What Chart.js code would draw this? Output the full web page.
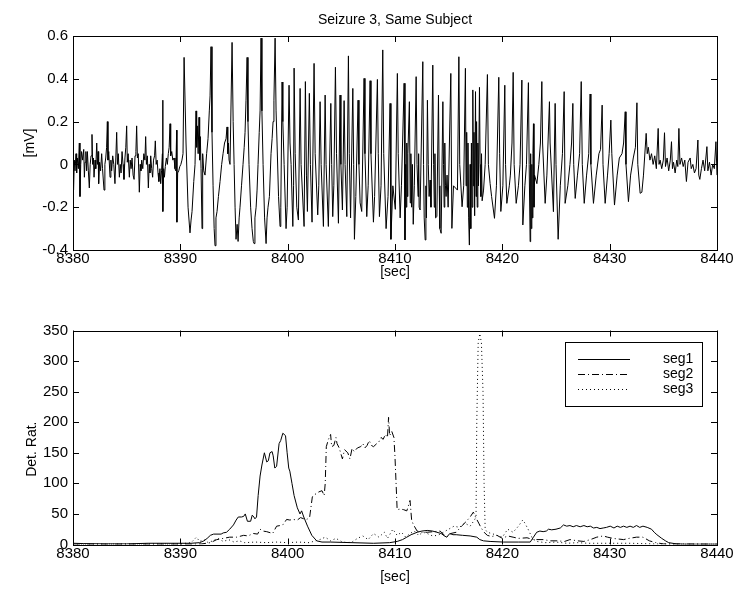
<!DOCTYPE html>
<html>
<head>
<meta charset="utf-8">
<script src="https://cdn.jsdelivr.net/npm/chart.js@4.4.0/dist/chart.umd.min.js"></script>
<style>
  html, body { margin: 0; padding: 0; background: #fff; }
  #wrap { position: relative; width: 755px; height: 595px; }
  canvas { position: absolute; left: 0; }
  #eegChart { top: 0; }
  #ratioChart { top: 290px; }
</style>
</head>
<body>
<div id="wrap">
  <canvas id="eegChart" width="755" height="290"></canvas>
  <canvas id="ratioChart" width="755" height="305"></canvas>
</div>
<script>
// EEG CHARTS

// tick values / labels
const timeTicks = [8380, 8390, 8400, 8410, 8420, 8430, 8440];
const mvTicks = [-0.4, -0.2, 0, 0.2, 0.4, 0.6];
const mvTickLabels = ["-0.4", "-0.2", "0", "0.2", "0.4", "0.6"];
const ratioTicks = [0, 50, 100, 150, 200, 250, 300, 350];

// top panel: [sec, mV]
const eegPreIctal = [
  [8380.00, -0.02], [8380.05, -0.12], [8380.12, 0.02], [8380.19, -0.03], [8380.28, 0.05],
  [8380.34, -0.04], [8380.40, 0.03], [8380.50, -0.02], [8380.59, 0.10], [8380.65, -0.15],
  [8380.72, 0.00], [8380.80, 0.06], [8380.90, 0.02], [8381.00, 0.07], [8381.06, -0.06],
  [8381.12, 0.01], [8381.20, 0.06], [8381.27, -0.03], [8381.34, 0.06], [8381.43, -0.03],
  [8381.52, -0.11], [8381.60, 0.00], [8381.68, 0.04], [8381.77, 0.14], [8381.83, 0.00],
  [8381.90, 0.03], [8381.96, -0.06], [8382.05, 0.02], [8382.12, -0.02], [8382.21, 0.10],
  [8382.28, 0.00], [8382.34, 0.06], [8382.39, -0.09], [8382.48, 0.01], [8382.57, -0.03],
  [8382.67, 0.05], [8382.75, -0.02], [8382.89, -0.12], [8382.97, 0.00], [8383.05, 0.03],
  [8383.13, 0.08], [8383.20, 0.20], [8383.26, 0.02], [8383.33, 0.06], [8383.45, -0.06],
  [8383.53, 0.02], [8383.60, -0.03], [8383.70, 0.04], [8383.80, 0.00], [8383.91, -0.09],
  [8383.99, 0.03], [8384.07, 0.15], [8384.14, 0.00], [8384.22, 0.05], [8384.32, -0.06],
  [8384.40, 0.00], [8384.48, -0.04], [8384.57, 0.06], [8384.66, 0.00], [8384.75, -0.07],
  [8384.84, 0.03], [8384.92, 0.08], [8385.00, 0.18], [8385.06, 0.01], [8385.14, 0.05],
  [8385.25, -0.06], [8385.33, 0.02], [8385.41, -0.02], [8385.50, 0.03], [8385.60, -0.05],
  [8385.69, -0.07], [8385.78, 0.04], [8385.86, 0.06], [8385.93, 0.18], [8386.00, 0.03],
  [8386.08, 0.05], [8386.18, -0.13], [8386.26, 0.00], [8386.33, -0.03], [8386.40, 0.02],
  [8386.50, -0.02], [8386.60, 0.05], [8386.70, 0.02], [8386.77, 0.13], [8386.84, 0.00],
  [8386.93, 0.04], [8387.02, -0.11], [8387.10, 0.00], [8387.17, -0.04], [8387.24, 0.04],
  [8387.33, -0.02], [8387.42, -0.06], [8387.50, 0.02], [8387.60, 0.04], [8387.67, 0.11],
  [8387.75, 0.00], [8387.84, 0.02], [8387.92, -0.04], [8388.00, -0.08], [8388.10, -0.02],
  [8388.17, -0.09], [8388.25, -0.03], [8388.33, 0.05], [8388.36, 0.30], [8388.38, -0.22],
  [8388.45, -0.02], [8388.52, -0.06], [8388.60, -0.01], [8388.70, 0.03], [8388.79, 0.00],
  [8388.88, 0.05], [8388.96, 0.08], [8389.04, 0.19], [8389.10, 0.04], [8389.20, 0.06],
  [8389.30, 0.02], [8389.41, 0.03], [8389.50, -0.02], [8389.58, -0.03], [8389.66, 0.16],
  [8389.68, -0.27], [8389.75, -0.04], [8389.85, -0.03], [8389.95, -0.01], [8390.05, 0.00],
  [8390.15, 0.02], [8390.25, 0.05],
];

const eegOnset = [
  [8390.35, 0.50], [8390.53, 0.10], [8390.72, -0.20], [8390.90, -0.32], [8391.00, -0.26],
  [8391.09, -0.22], [8391.25, -0.08], [8391.37, 0.00], [8391.46, 0.25], [8391.52, 0.08],
  [8391.58, 0.18], [8391.66, 0.05], [8391.74, 0.22], [8391.80, 0.02], [8391.86, 0.13],
  [8391.93, -0.02], [8392.02, -0.30], [8392.08, 0.05], [8392.18, -0.03], [8392.30, -0.05],
  [8392.45, 0.05], [8392.58, 0.12], [8392.70, 0.25], [8392.77, 0.32], [8392.86, 0.55],
  [8392.95, 0.15], [8393.05, -0.10], [8393.15, -0.30], [8393.23, -0.38], [8393.32, -0.25],
  [8393.42, -0.22], [8393.55, -0.15], [8393.70, -0.08], [8393.85, 0.00], [8393.98, 0.05],
  [8394.12, 0.10], [8394.26, 0.12], [8394.35, 0.175], [8394.42, 0.05], [8394.48, 0.10],
  [8394.54, 0.02], [8394.63, 0.00], [8394.82, 0.57], [8394.92, 0.20], [8395.01, 0.00],
  [8395.10, -0.20], [8395.19, -0.35], [8395.29, -0.28], [8395.38, -0.36], [8395.48, -0.25],
  [8395.56, -0.20], [8395.70, -0.10], [8395.84, 0.00], [8395.95, 0.08], [8396.03, 0.15],
  [8396.12, 0.30], [8396.22, 0.50], [8396.30, 0.20], [8396.40, 0.00], [8396.55, -0.20],
  [8396.68, -0.30], [8396.80, -0.36], [8396.87, -0.37], [8396.95, -0.25], [8397.06, -0.20],
  [8397.15, -0.12], [8397.24, 0.00], [8397.35, 0.15], [8397.43, 0.25], [8397.52, 0.59],
  [8397.60, 0.25], [8397.71, 0.00], [8397.85, -0.25], [8397.99, -0.37], [8398.08, -0.25],
  [8398.17, -0.20], [8398.30, -0.15], [8398.45, 0.05], [8398.55, 0.12], [8398.64, 0.20],
  [8398.72, 0.30], [8398.83, 0.59], [8398.92, 0.25], [8399.01, 0.10], [8399.15, -0.15],
  [8399.29, -0.29], [8399.36, -0.20], [8399.48, 0.385], [8399.55, 0.20], [8399.67, 0.00],
  [8399.85, -0.30], [8399.95, -0.20], [8400.13, 0.37], [8400.22, 0.10], [8400.32, 0.00],
  [8400.48, -0.29], [8400.55, -0.10],
];

const eegIctal = [
  [8400.60, 0.45], [8400.70, 0.05], [8400.85, -0.20], [8401.00, -0.26], [8401.16, 0.355],
  [8401.25, 0.00], [8401.53, -0.29], [8401.65, 0.387], [8401.75, -0.05], [8401.84, -0.22],
  [8402.02, 0.332], [8402.12, 0.00], [8402.27, -0.27], [8402.46, 0.472], [8402.56, 0.05],
  [8402.80, -0.236], [8402.90, -0.10], [8403.02, 0.293], [8403.12, 0.00], [8403.33, -0.29],
  [8403.49, 0.324], [8403.58, 0.00], [8403.79, -0.29], [8404.02, 0.285], [8404.10, 0.00],
  [8404.20, -0.244], [8404.30, -0.10], [8404.45, 0.454], [8404.55, 0.05], [8404.73, -0.275],
  [8404.88, 0.324], [8404.96, 0.00], [8405.10, -0.213], [8405.26, 0.298], [8405.35, 0.00],
  [8405.51, -0.244], [8405.66, 0.507], [8405.74, 0.05], [8405.86, -0.25], [8406.07, 0.355],
  [8406.15, 0.00], [8406.22, -0.35], [8406.35, -0.15], [8406.56, 0.30], [8406.64, 0.00],
  [8406.75, -0.18], [8406.90, -0.22], [8407.12, 0.402], [8407.20, 0.05], [8407.37, -0.244],
  [8407.50, -0.10], [8407.68, 0.391], [8407.76, 0.05], [8407.99, -0.27], [8408.10, -0.15],
  [8408.36, 0.397], [8408.44, 0.05], [8408.55, -0.244], [8408.70, -0.10], [8408.86, 0.535],
  [8408.95, 0.05], [8409.17, -0.30], [8409.35, -0.15], [8409.54, 0.285], [8409.62, -0.35],
  [8409.80, -0.10], [8410.03, -0.21], [8410.22, 0.425], [8410.30, 0.05], [8410.48, -0.25],
  [8410.60, -0.10], [8410.85, 0.379], [8410.93, -0.353], [8411.00, 0.00], [8411.05, -0.20],
  [8411.10, 0.10], [8411.15, -0.15], [8411.20, 0.05], [8411.34, 0.293], [8411.42, -0.18],
  [8411.48, 0.05], [8411.55, -0.20], [8411.62, 0.00], [8411.70, -0.28], [8411.80, -0.10],
  [8411.97, 0.41], [8412.05, 0.00], [8412.15, -0.15], [8412.20, 0.05], [8412.25, -0.20],
  [8412.34, -0.213], [8412.59, 0.48], [8412.66, 0.00], [8412.72, -0.25], [8412.81, -0.353],
  [8412.88, -0.10], [8412.93, -0.25], [8413.02, 0.30], [8413.10, 0.00], [8413.18, -0.15],
  [8413.27, -0.073], [8413.35, -0.20], [8413.52, 0.464], [8413.60, 0.00], [8413.66, -0.20],
  [8413.72, 0.05], [8413.78, -0.25], [8413.90, -0.244], [8414.05, 0.324], [8414.12, -0.10],
  [8414.18, -0.30], [8414.30, -0.322], [8414.46, 0.293], [8414.52, 0.00], [8414.58, -0.20],
  [8414.64, 0.10], [8414.70, -0.10], [8414.76, -0.15], [8414.85, -0.05], [8414.95, -0.20],
  [8415.20, 0.425], [8415.30, -0.299], [8415.45, -0.10], [8415.82, -0.12], [8415.95, 0.503],
  [8416.03, 0.00], [8416.25, -0.198], [8416.40, -0.10], [8416.56, 0.449], [8416.62, -0.10],
  [8416.68, 0.15], [8416.74, -0.20], [8416.80, 0.10], [8416.86, -0.25], [8416.93, -0.377],
  [8417.00, 0.00], [8417.06, -0.30], [8417.12, 0.10], [8417.18, -0.20], [8417.25, 0.348],
  [8417.30, -0.10], [8417.36, 0.15], [8417.42, -0.24], [8417.50, 0.34], [8417.55, -0.15],
  [8417.60, 0.20], [8417.66, -0.20], [8417.72, 0.10], [8417.78, -0.10], [8417.87, 0.36],
  [8417.93, 0.00], [8418.00, -0.15], [8418.06, 0.05], [8418.12, -0.17], [8418.25, -0.12],
  [8418.40, 0.00], [8418.61, 0.42], [8418.70, 0.00], [8418.86, -0.089], [8419.00, -0.15],
  [8419.27, -0.252], [8419.45, -0.10], [8419.67, 0.407], [8419.75, 0.05], [8419.86, -0.22],
  [8420.05, -0.10], [8420.23, 0.37], [8420.30, 0.00], [8420.42, -0.182], [8420.65, -0.10],
  [8420.75, -0.05], [8420.90, 0.10], [8421.01, 0.43], [8421.10, 0.00], [8421.29, -0.182],
  [8421.50, -0.10], [8421.65, 0.00], [8421.82, 0.394], [8421.91, -0.283], [8422.10, -0.10],
  [8422.25, 0.00], [8422.43, 0.382], [8422.50, 0.00], [8422.59, -0.361], [8422.62, -0.20],
  [8422.66, 0.05], [8422.70, -0.30], [8422.75, 0.00], [8422.80, -0.25], [8422.85, 0.05],
  [8422.90, 0.19], [8422.95, -0.20], [8423.00, -0.05],
];

const eegOffset = [
  [8423.22, -0.09], [8423.40, 0.00], [8423.55, 0.10], [8423.68, 0.387], [8423.75, 0.10],
  [8423.99, -0.182], [8424.15, -0.05], [8424.39, 0.293], [8424.45, 0.10], [8424.76, -0.221],
  [8424.92, 0.285], [8425.00, 0.00], [8425.20, -0.35], [8425.40, -0.10], [8425.60, 0.05],
  [8425.76, 0.34], [8425.85, -0.182], [8426.10, -0.10], [8426.30, 0.00], [8426.45, 0.10],
  [8426.57, 0.285], [8426.65, 0.00], [8426.79, -0.159], [8427.00, -0.05], [8427.20, 0.05],
  [8427.35, 0.387], [8427.45, 0.00], [8427.63, -0.182], [8427.85, -0.05], [8428.05, 0.05],
  [8428.18, 0.329], [8428.25, 0.00], [8428.49, -0.182], [8428.75, -0.05], [8429.00, 0.05],
  [8429.15, 0.07], [8429.30, 0.277], [8429.38, 0.00], [8429.58, -0.182], [8429.80, -0.05],
  [8429.95, 0.05], [8430.11, 0.207], [8430.20, 0.05], [8430.45, -0.19], [8430.70, -0.05],
  [8430.90, 0.03], [8431.15, 0.05], [8431.30, 0.10], [8431.45, 0.246], [8431.52, 0.00],
  [8431.75, -0.174], [8431.95, -0.05], [8432.20, 0.03], [8432.40, 0.08], [8432.54, 0.288],
  [8432.62, 0.00], [8432.84, -0.135], [8433.00, -0.13], [8433.15, -0.05], [8433.40, 0.145],
  [8433.50, 0.05], [8433.60, 0.08], [8433.75, 0.02], [8433.90, 0.05], [8434.05, 0.00],
  [8434.20, 0.04], [8434.35, -0.02], [8434.52, 0.168], [8434.60, 0.00], [8434.70, 0.02],
  [8434.85, -0.02], [8435.00, 0.02], [8435.11, 0.148], [8435.20, -0.01], [8435.35, 0.03],
  [8435.50, -0.03], [8435.65, 0.02], [8435.76, 0.106], [8435.85, -0.02], [8435.95, 0.01],
  [8436.10, -0.04], [8436.25, 0.02], [8436.35, -0.01], [8436.45, 0.168], [8436.55, 0.00],
  [8436.70, 0.03], [8436.85, -0.01], [8437.00, 0.02], [8437.15, -0.08], [8437.30, 0.01],
  [8437.50, 0.03], [8437.60, -0.02], [8437.75, 0.00], [8437.90, -0.04], [8438.05, -0.02],
  [8438.22, 0.114], [8438.30, -0.05], [8438.40, -0.07], [8438.55, -0.02], [8438.70, 0.02],
  [8438.85, -0.03], [8439.06, 0.083], [8439.15, -0.03], [8439.30, 0.01], [8439.45, -0.05],
  [8439.60, 0.00], [8439.75, -0.02], [8439.90, 0.106], [8440.00, -0.05],
];

// bottom panel: [sec, detection ratio]
const seg1Ratio = [
  [8380, 2], [8381, 1.5], [8383, 1], [8385, 1], [8387, 2], [8389, 2], [8391, 2], [8391.8, 3],
  [8392.2, 6], [8392.5, 10], [8392.8, 15], [8393.1, 17], [8393.8, 17], [8394.0, 19], [8394.3, 20],
  [8394.6, 25], [8394.95, 32], [8395.2, 40], [8395.4, 45], [8395.7, 45], [8395.9, 46], [8396.05, 50],
  [8396.25, 38], [8396.55, 38], [8396.7, 48], [8396.85, 45], [8396.95, 42], [8397.1, 45],
  [8397.25, 80], [8397.43, 112], [8397.6, 130], [8397.83, 150], [8398.05, 135], [8398.2, 137],
  [8398.35, 150], [8398.55, 152], [8398.65, 145], [8398.8, 125], [8398.97, 128], [8399.2, 165],
  [8399.35, 170], [8399.55, 182], [8399.8, 178], [8399.95, 150], [8400.1, 125], [8400.2, 120],
  [8400.4, 100], [8400.6, 80], [8400.9, 60], [8401.15, 50], [8401.3, 55], [8401.5, 45],
  [8401.85, 30], [8402.25, 15], [8402.7, 6], [8403.2, 4], [8404, 4], [8406, 3], [8408, 2],
  [8409.5, 3], [8410.2, 5], [8410.7, 8], [8411.1, 12], [8411.5, 16], [8412.06, 20], [8412.5, 22],
  [8413, 23], [8413.5, 22], [8413.9, 20], [8414.3, 18], [8414.6, 14], [8414.83, 12], [8415.1, 18],
  [8415.4, 16], [8415.7, 16], [8416.3, 15], [8417.0, 14], [8417.62, 12], [8417.9, 8], [8418.24, 6],
  [8418.86, 5], [8420.1, 4], [8421.5, 4], [8422.6, 4], [8422.9, 12], [8423.2, 20], [8423.5, 22],
  [8423.8, 21], [8424.1, 22], [8424.3, 25], [8424.6, 24], [8425.0, 25], [8425.4, 27], [8425.7, 32],
  [8426.0, 30], [8426.3, 31], [8426.6, 29], [8426.9, 31], [8427.25, 29], [8427.6, 31], [8427.9, 29],
  [8428.2, 30], [8428.5, 27], [8428.8, 28], [8429.1, 26], [8429.4, 27], [8429.7, 28], [8430.05, 30],
  [8430.4, 27], [8430.7, 30], [8431.0, 28], [8431.3, 30], [8431.6, 28], [8431.9, 30], [8432.2, 28],
  [8432.5, 31], [8432.8, 28], [8433.1, 30], [8433.5, 28], [8433.9, 25], [8434.15, 20], [8434.4, 16],
  [8434.85, 10], [8435.2, 6], [8435.5, 3], [8436.2, 1], [8437, 0.5], [8440, 0.5],
];

const seg2Ratio = [
  [8380, 0.5], [8391, 0.5], [8392, 1], [8392.8, 3], [8393.4, 8], [8394, 10], [8394.6, 12],
  [8395.25, 12], [8395.9, 15], [8396.3, 14], [8396.8, 18], [8397.2, 17], [8397.43, 25],
  [8397.7, 22], [8398.05, 21], [8398.6, 18], [8398.97, 30], [8399.3, 31], [8399.6, 33],
  [8399.9, 41], [8400.2, 40], [8400.5, 41], [8400.9, 40], [8401.2, 44], [8401.5, 42], [8401.8, 41],
  [8402.05, 45], [8402.3, 78], [8402.5, 82], [8402.7, 83], [8402.9, 86], [8403.2, 88], [8403.4, 80],
  [8403.5, 100], [8403.6, 160], [8403.8, 172], [8404.0, 180], [8404.1, 160], [8404.3, 162],
  [8404.5, 175], [8404.6, 165], [8404.8, 158], [8405.1, 140], [8405.3, 155], [8405.6, 150],
  [8405.8, 140], [8406.0, 157], [8406.2, 152], [8406.5, 158], [8406.8, 160], [8407.0, 165],
  [8407.2, 158], [8407.4, 162], [8407.6, 170], [8407.8, 162], [8408.0, 160], [8408.3, 165],
  [8408.5, 168], [8408.7, 175], [8408.9, 172], [8409.1, 180], [8409.3, 175], [8409.4, 208],
  [8409.5, 178], [8409.7, 185], [8409.9, 175], [8410.0, 143], [8410.2, 57], [8410.5, 58],
  [8410.8, 57], [8411.1, 55], [8411.4, 72], [8411.55, 40], [8411.7, 33], [8412.06, 22],
  [8412.5, 20], [8413, 20], [8413.6, 21], [8414.2, 22], [8414.8, 12], [8415.2, 18], [8415.7, 20],
  [8416.2, 30], [8416.6, 37], [8417.0, 45], [8417.3, 53], [8417.5, 45], [8417.8, 35], [8418.0, 28],
  [8418.3, 20], [8418.6, 15], [8419.0, 13], [8419.5, 15], [8420.0, 10], [8420.5, 14], [8421, 12],
  [8421.5, 10], [8422.3, 11], [8422.9, 8], [8423.8, 8], [8424.5, 6], [8425.1, 6], [8425.8, 5],
  [8426.3, 8], [8427, 6], [8427.6, 5], [8428.2, 8], [8428.8, 12], [8429.4, 14], [8429.8, 12],
  [8430.3, 10], [8430.8, 9], [8431.3, 8], [8431.8, 10], [8432.5, 12], [8433.1, 12], [8433.7, 6],
  [8434.3, 3], [8435, 1], [8440, 0.5],
];

const seg3Ratio = [
  [8380, 0.5], [8390, 1], [8391, 3], [8391.5, 12], [8391.8, 5], [8392.2, 8], [8392.6, 3],
  [8393, 6], [8393.5, 10], [8394, 5], [8394.5, 8], [8395, 4], [8395.5, 6], [8396, 3], [8397, 4],
  [8398, 3], [8399, 4], [8400, 3], [8401, 4], [8402, 3], [8403, 8], [8403.5, 12], [8404, 6],
  [8404.5, 10], [8405, 5], [8405.5, 3], [8406, 4], [8406.5, 10], [8407, 14], [8407.5, 8],
  [8408, 18], [8408.5, 12], [8409, 20], [8409.3, 10], [8409.8, 25], [8410.2, 15], [8410.6, 20],
  [8411, 12], [8411.4, 18], [8411.8, 22], [8412.2, 15], [8412.6, 20], [8413, 18], [8413.5, 14],
  [8414, 15], [8414.5, 20], [8415, 25], [8415.5, 30], [8416, 28], [8416.5, 35], [8417, 30],
  [8417.4, 40], [8417.55, 45], [8417.62, 200], [8417.75, 330], [8417.9, 345], [8418.05, 330],
  [8418.2, 250], [8418.3, 100], [8418.4, 25], [8418.6, 20], [8419, 18], [8419.5, 15], [8420, 12],
  [8420.5, 25], [8421, 20], [8421.5, 30], [8421.9, 40], [8422.1, 35], [8422.4, 25], [8422.8, 10],
  [8423.2, 5], [8424, 3], [8425, 4], [8426, 2], [8427, 3], [8428, 2], [8430, 2], [8432, 2],
  [8434, 1], [8436, 0.5], [8440, 0.5],
];

const toXY = (rows) => rows.map(([x, y]) => ({ x, y }));
const eegTrace = [].concat(eegPreIctal, eegOnset, eegIctal, eegOffset);

const FAMILY = "'Liberation Sans', Arial, sans-serif";
const FONT = { family: FAMILY, size: 14, weight: "normal" };
const TICK_FONT = { family: FAMILY, size: 15, weight: "normal" };
Chart.defaults.color = "#000";

// matlab style box + inward tick marks
const boxTicks = {
  id: "boxTicks",
  afterDatasetsDraw(chart) {
    const { ctx, chartArea: a, scales } = chart;
    const x = scales.x, y = scales.y;
    ctx.save();
    ctx.strokeStyle = "#000";
    ctx.lineWidth = 1;
    ctx.beginPath();
    x.ticks.forEach((t) => {
      const px = Math.round(x.getPixelForValue(t.value)) + 0.5;
      ctx.moveTo(px, a.bottom); ctx.lineTo(px, a.bottom - 6);
      ctx.moveTo(px, a.top); ctx.lineTo(px, a.top + 6);
    });
    y.ticks.forEach((t) => {
      const py = Math.round(y.getPixelForValue(t.value)) + 0.5;
      ctx.moveTo(a.left, py); ctx.lineTo(a.left + 6, py);
      ctx.moveTo(a.right, py); ctx.lineTo(a.right - 6, py);
    });
    ctx.stroke();
    ctx.strokeRect(Math.round(a.left) + 0.5, Math.round(a.top) + 0.5,
      Math.round(a.width), Math.round(a.height));
    ctx.restore();
  },
};

// legend box like the original figure
const boxLegend = {
  id: "boxLegend",
  afterDraw(chart) {
    const { ctx, chartArea: a } = chart;
    const left = Math.round(a.right - 152), top = Math.round(a.top + 11);
    ctx.save();
    ctx.fillStyle = "#fff";
    ctx.fillRect(left, top, 137, 64);
    ctx.strokeStyle = "#000";
    ctx.lineWidth = 1;
    ctx.strokeRect(left + 0.5, top + 0.5, 137, 64);
    ctx.font = "14px " + FAMILY;
    ctx.fillStyle = "#000";
    ctx.textBaseline = "middle";
    chart.data.datasets.forEach((ds, i) => {
      const yy = top + 17 + i * 15 + 0.5;
      ctx.setLineDash(ds.borderDash || []);
      ctx.beginPath();
      ctx.moveTo(left + 13, yy);
      ctx.lineTo(left + 65, yy);
      ctx.stroke();
      ctx.setLineDash([]);
      ctx.fillText(ds.label, left + 98, yy);
    });
    ctx.restore();
  },
};

function xAxis() {
  return {
    type: "linear", min: 8380, max: 8440,
    afterBuildTicks: (s) => { s.ticks = timeTicks.map((v) => ({ value: v })); },
    ticks: { font: TICK_FONT, padding: 0, autoSkip: false, maxRotation: 0, callback: (v) => String(v) },
    grid: { display: false, drawTicks: false },
    border: { display: false },
    title: { display: true, text: "[sec]", font: FONT, padding: { top: 0, bottom: 9 } },
  };
}

new Chart(document.getElementById("eegChart"), {
  type: "line",
  data: {
    datasets: [{
      label: "EEG",
      data: toXY(eegTrace),
      borderColor: "#000",
      borderWidth: 1,
      pointRadius: 0,
      tension: 0,
    }],
  },
  options: {
    responsive: false,
    animation: false,
    layout: { padding: { top: 0, right: 38, left: 0, bottom: 0 } },
    scales: {
      x: Object.assign(xAxis(), { afterFit: (s) => { s.height = 40; } }),
      y: {
        min: -0.4, max: 0.6,
        afterBuildTicks: (s) => { s.ticks = mvTicks.map((v) => ({ value: v })); },
        ticks: { font: TICK_FONT, padding: 5, callback: (v, i) => mvTickLabels[i] },
        grid: { display: false, drawTicks: false },
        border: { display: false },
        title: { display: true, text: "[mV]", font: FONT, padding: { top: 22 } },
        afterFit: (s) => { s.width = 73; },
      },
    },
    plugins: {
      legend: { display: false },
      tooltip: { enabled: false },
      title: {
        display: true,
        text: "Seizure 3, Same Subject",
        font: FONT,
        fullSize: false,
        padding: { top: 12, bottom: 7.2 },
      },
    },
  },
  plugins: [boxTicks],
});

new Chart(document.getElementById("ratioChart"), {
  type: "line",
  data: {
    datasets: [
      { label: "seg1", data: toXY(seg1Ratio), borderColor: "#000", borderWidth: 1, pointRadius: 0, borderDash: [] },
      { label: "seg2", data: toXY(seg2Ratio), borderColor: "#000", borderWidth: 1, pointRadius: 0, borderDash: [7, 3, 1, 3] },
      { label: "seg3", data: toXY(seg3Ratio), borderColor: "#000", borderWidth: 1, pointRadius: 0, borderDash: [1, 3] },
    ],
  },
  options: {
    responsive: false,
    animation: false,
    layout: { padding: { top: 40.5, right: 38, left: 0, bottom: 0 } },
    scales: {
      x: Object.assign(xAxis(), { afterFit: (s) => { s.height = 50.5; } }),
      y: {
        min: 0, max: 350,
        afterBuildTicks: (s) => { s.ticks = ratioTicks.map((v) => ({ value: v })); },
        ticks: { font: TICK_FONT, padding: 5, callback: (v) => String(v) },
        grid: { display: false, drawTicks: false },
        border: { display: false },
        // trailing spaces nudge the rotated label down like the original
        title: { display: true, text: "Det. Rat.      ", font: FONT, padding: { top: 24 } },
        afterFit: (s) => { s.width = 73; },
      },
    },
    plugins: {
      legend: { display: false },
      tooltip: { enabled: false },
    },
  },
  plugins: [boxTicks, boxLegend],
});
</script>
</body>
</html>
